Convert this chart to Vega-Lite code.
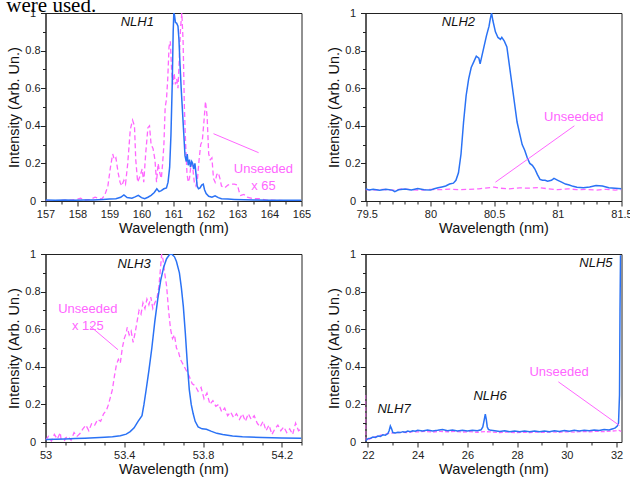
{
  "$schema": "https://vega.github.io/schema/vega-lite/v6.json",
  "padding": {"left": 5.5, "top": -6, "right": 4, "bottom": 4},
  "background": "white",
  "title": {"text": "were used.", "anchor": "start", "frame": "bounds", "font": "Liberation Serif", "fontSize": 21, "fontWeight": "normal", "color": "#000", "offset": -9},
  "columns": 2,
  "spacing": {"row": 53, "column": 64},
  "bounds": "flush",
  "datasets": {
    "s1": [
      {"x":157.0,"y":0.005},{"x":157.3,"y":0.004},{"x":157.6,"y":0.005},{"x":157.9,"y":0.004},{"x":158.2,"y":0.005},{"x":158.5,"y":0.005},{"x":158.8,"y":0.008},{"x":159.0,"y":0.01},{"x":159.2,"y":0.012},{"x":159.35,"y":0.02},{"x":159.45,"y":0.032},{"x":159.55,"y":0.018},{"x":159.7,"y":0.015},{"x":159.8,"y":0.022},{"x":159.9,"y":0.03},{"x":160.0,"y":0.018},{"x":160.1,"y":0.012},{"x":160.2,"y":0.02},{"x":160.3,"y":0.03},{"x":160.4,"y":0.045},{"x":160.48,"y":0.065},{"x":160.55,"y":0.05},{"x":160.62,"y":0.055},{"x":160.7,"y":0.065},{"x":160.78,"y":0.07},{"x":160.83,"y":0.1},{"x":160.88,"y":0.18},{"x":160.92,"y":0.35},{"x":160.96,"y":0.62},{"x":160.99,"y":0.9},{"x":161.01,"y":1.0},{"x":161.03,"y":0.99},{"x":161.06,"y":0.95},{"x":161.1,"y":0.945},{"x":161.14,"y":0.93},{"x":161.17,"y":0.86},{"x":161.2,"y":0.74},{"x":161.24,"y":0.6},{"x":161.28,"y":0.48},{"x":161.32,"y":0.36},{"x":161.36,"y":0.24},{"x":161.4,"y":0.21},{"x":161.43,"y":0.25},{"x":161.46,"y":0.19},{"x":161.5,"y":0.22},{"x":161.53,"y":0.18},{"x":161.57,"y":0.21},{"x":161.6,"y":0.2},{"x":161.63,"y":0.17},{"x":161.67,"y":0.2},{"x":161.7,"y":0.15},{"x":161.74,"y":0.08},{"x":161.78,"y":0.065},{"x":161.83,"y":0.07},{"x":161.88,"y":0.085},{"x":161.93,"y":0.09},{"x":161.97,"y":0.06},{"x":162.02,"y":0.04},{"x":162.1,"y":0.025},{"x":162.2,"y":0.02},{"x":162.3,"y":0.028},{"x":162.4,"y":0.018},{"x":162.5,"y":0.012},{"x":162.7,"y":0.01},{"x":162.9,"y":0.008},{"x":163.2,"y":0.006},{"x":163.5,"y":0.005},{"x":164.0,"y":0.004},{"x":164.5,"y":0.004},{"x":165.0,"y":0.004}
    ],
    "u1": [
      {"x":157.0,"y":0.0},{"x":157.4,"y":0.002},{"x":157.8,"y":0.005},{"x":158.0,"y":0.01},{"x":158.1,"y":0.015},{"x":158.2,"y":0.005},{"x":158.4,"y":0.008},{"x":158.55,"y":0.02},{"x":158.65,"y":0.015},{"x":158.75,"y":0.01},{"x":158.85,"y":0.03},{"x":158.95,"y":0.08},{"x":159.03,"y":0.18},{"x":159.1,"y":0.25},{"x":159.15,"y":0.22},{"x":159.2,"y":0.23},{"x":159.27,"y":0.15},{"x":159.33,"y":0.1},{"x":159.38,"y":0.08},{"x":159.45,"y":0.11},{"x":159.5,"y":0.09},{"x":159.57,"y":0.2},{"x":159.65,"y":0.38},{"x":159.72,"y":0.43},{"x":159.78,"y":0.4},{"x":159.82,"y":0.22},{"x":159.88,"y":0.1},{"x":159.95,"y":0.13},{"x":160.02,"y":0.17},{"x":160.07,"y":0.1},{"x":160.13,"y":0.25},{"x":160.2,"y":0.39},{"x":160.25,"y":0.4},{"x":160.3,"y":0.3},{"x":160.36,"y":0.28},{"x":160.42,"y":0.22},{"x":160.47,"y":0.1},{"x":160.52,"y":0.2},{"x":160.57,"y":0.15},{"x":160.62,"y":0.12},{"x":160.66,"y":0.2},{"x":160.7,"y":0.3},{"x":160.74,"y":0.5},{"x":160.78,"y":0.54},{"x":160.82,"y":0.65},{"x":160.86,"y":0.82},{"x":160.9,"y":0.85},{"x":160.94,"y":0.7},{"x":160.98,"y":0.62},{"x":161.02,"y":0.68},{"x":161.06,"y":0.62},{"x":161.1,"y":0.65},{"x":161.14,"y":0.6},{"x":161.18,"y":0.75},{"x":161.22,"y":0.92},{"x":161.26,"y":1.0},{"x":161.3,"y":0.85},{"x":161.34,"y":0.5},{"x":161.38,"y":0.3},{"x":161.42,"y":0.15},{"x":161.46,"y":0.1},{"x":161.5,"y":0.12},{"x":161.55,"y":0.2},{"x":161.6,"y":0.18},{"x":161.65,"y":0.1},{"x":161.7,"y":0.08},{"x":161.75,"y":0.12},{"x":161.8,"y":0.22},{"x":161.85,"y":0.3},{"x":161.9,"y":0.32},{"x":161.95,"y":0.42},{"x":162.0,"y":0.53},{"x":162.05,"y":0.45},{"x":162.1,"y":0.25},{"x":162.15,"y":0.22},{"x":162.2,"y":0.23},{"x":162.25,"y":0.12},{"x":162.3,"y":0.1},{"x":162.35,"y":0.14},{"x":162.4,"y":0.15},{"x":162.45,"y":0.12},{"x":162.5,"y":0.08},{"x":162.6,"y":0.07},{"x":162.7,"y":0.085},{"x":162.8,"y":0.09},{"x":162.9,"y":0.09},{"x":163.0,"y":0.085},{"x":163.05,"y":0.05},{"x":163.1,"y":0.03},{"x":163.2,"y":0.035},{"x":163.3,"y":0.02},{"x":163.5,"y":0.012},{"x":163.7,"y":0.012},{"x":163.9,"y":0.005},{"x":164.2,"y":0.003},{"x":164.6,"y":0.002},{"x":165.0,"y":0.002}
    ],
    "s2": [
      {"x":79.49,"y":0.065},{"x":79.52,"y":0.058},{"x":79.55,"y":0.062},{"x":79.6,"y":0.057},{"x":79.65,"y":0.063},{"x":79.7,"y":0.058},{"x":79.72,"y":0.05},{"x":79.75,"y":0.06},{"x":79.8,"y":0.064},{"x":79.85,"y":0.059},{"x":79.9,"y":0.066},{"x":79.95,"y":0.06},{"x":80.0,"y":0.058},{"x":80.03,"y":0.065},{"x":80.06,"y":0.07},{"x":80.09,"y":0.075},{"x":80.12,"y":0.08},{"x":80.15,"y":0.09},{"x":80.18,"y":0.095},{"x":80.2,"y":0.11},{"x":80.22,"y":0.15},{"x":80.24,"y":0.25},{"x":80.26,"y":0.42},{"x":80.28,"y":0.56},{"x":80.3,"y":0.65},{"x":80.32,"y":0.71},{"x":80.34,"y":0.74},{"x":80.36,"y":0.77},{"x":80.38,"y":0.76},{"x":80.39,"y":0.73},{"x":80.4,"y":0.76},{"x":80.42,"y":0.82},{"x":80.44,"y":0.88},{"x":80.46,"y":0.93},{"x":80.47,"y":0.97},{"x":80.48,"y":1.0},{"x":80.49,"y":0.96},{"x":80.51,"y":0.9},{"x":80.53,"y":0.87},{"x":80.55,"y":0.86},{"x":80.56,"y":0.87},{"x":80.58,"y":0.85},{"x":80.6,"y":0.82},{"x":80.62,"y":0.72},{"x":80.64,"y":0.62},{"x":80.66,"y":0.52},{"x":80.68,"y":0.42},{"x":80.7,"y":0.36},{"x":80.72,"y":0.3},{"x":80.74,"y":0.27},{"x":80.76,"y":0.23},{"x":80.78,"y":0.2},{"x":80.8,"y":0.19},{"x":80.82,"y":0.17},{"x":80.84,"y":0.14},{"x":80.86,"y":0.115},{"x":80.88,"y":0.11},{"x":80.9,"y":0.11},{"x":80.92,"y":0.105},{"x":80.95,"y":0.11},{"x":80.97,"y":0.12},{"x":81.0,"y":0.11},{"x":81.03,"y":0.1},{"x":81.06,"y":0.09},{"x":81.09,"y":0.085},{"x":81.12,"y":0.078},{"x":81.15,"y":0.073},{"x":81.2,"y":0.07},{"x":81.25,"y":0.075},{"x":81.3,"y":0.082},{"x":81.35,"y":0.08},{"x":81.4,"y":0.07},{"x":81.45,"y":0.068},{"x":81.5,"y":0.065}
    ],
    "u2": [
      {"x":79.49,"y":0.06},{"x":79.55,"y":0.058},{"x":79.62,"y":0.062},{"x":79.7,"y":0.057},{"x":79.78,"y":0.065},{"x":79.85,"y":0.06},{"x":79.92,"y":0.058},{"x":80.0,"y":0.062},{"x":80.08,"y":0.06},{"x":80.15,"y":0.063},{"x":80.22,"y":0.06},{"x":80.3,"y":0.062},{"x":80.38,"y":0.065},{"x":80.45,"y":0.07},{"x":80.5,"y":0.074},{"x":80.55,"y":0.068},{"x":80.62,"y":0.065},{"x":80.7,"y":0.07},{"x":80.78,"y":0.068},{"x":80.85,"y":0.072},{"x":80.92,"y":0.065},{"x":81.0,"y":0.06},{"x":81.08,"y":0.065},{"x":81.15,"y":0.06},{"x":81.22,"y":0.062},{"x":81.3,"y":0.058},{"x":81.38,"y":0.062},{"x":81.45,"y":0.058},{"x":81.5,"y":0.06}
    ],
    "s3": [
      {"x":53.0,"y":0.013},{"x":53.05,"y":0.014},{"x":53.1,"y":0.016},{"x":53.15,"y":0.018},{"x":53.2,"y":0.02},{"x":53.25,"y":0.022},{"x":53.3,"y":0.025},{"x":53.34,"y":0.028},{"x":53.38,"y":0.033},{"x":53.41,"y":0.042},{"x":53.43,"y":0.055},{"x":53.45,"y":0.075},{"x":53.47,"y":0.11},{"x":53.49,"y":0.14},{"x":53.5,"y":0.2},{"x":53.51,"y":0.27},{"x":53.525,"y":0.38},{"x":53.54,"y":0.5},{"x":53.555,"y":0.64},{"x":53.57,"y":0.76},{"x":53.585,"y":0.86},{"x":53.6,"y":0.93},{"x":53.615,"y":0.975},{"x":53.63,"y":0.997},{"x":53.64,"y":1.0},{"x":53.655,"y":0.985},{"x":53.665,"y":0.96},{"x":53.68,"y":0.9},{"x":53.69,"y":0.82},{"x":53.7,"y":0.72},{"x":53.71,"y":0.58},{"x":53.72,"y":0.42},{"x":53.73,"y":0.28},{"x":53.74,"y":0.2},{"x":53.75,"y":0.15},{"x":53.76,"y":0.11},{"x":53.775,"y":0.08},{"x":53.795,"y":0.07},{"x":53.817,"y":0.068},{"x":53.84,"y":0.058},{"x":53.87,"y":0.046},{"x":53.9,"y":0.04},{"x":53.95,"y":0.032},{"x":54.0,"y":0.028},{"x":54.1,"y":0.024},{"x":54.2,"y":0.021},{"x":54.3,"y":0.02}
    ],
    "u3": [
      {"x":53.0,"y":0.01},{"x":53.015,"y":0.03},{"x":53.03,"y":0.005},{"x":53.045,"y":0.04},{"x":53.06,"y":0.015},{"x":53.075,"y":0.05},{"x":53.085,"y":-0.04},{"x":53.1,"y":0.02},{"x":53.115,"y":0.03},{"x":53.13,"y":0.01},{"x":53.145,"y":0.05},{"x":53.16,"y":0.03},{"x":53.175,"y":0.045},{"x":53.19,"y":0.07},{"x":53.205,"y":0.09},{"x":53.22,"y":0.06},{"x":53.235,"y":0.1},{"x":53.25,"y":0.09},{"x":53.265,"y":0.12},{"x":53.28,"y":0.11},{"x":53.295,"y":0.15},{"x":53.31,"y":0.17},{"x":53.32,"y":0.2},{"x":53.33,"y":0.24},{"x":53.34,"y":0.28},{"x":53.35,"y":0.35},{"x":53.36,"y":0.41},{"x":53.37,"y":0.44},{"x":53.38,"y":0.42},{"x":53.39,"y":0.5},{"x":53.4,"y":0.55},{"x":53.41,"y":0.58},{"x":53.415,"y":0.61},{"x":53.425,"y":0.57},{"x":53.435,"y":0.59},{"x":53.445,"y":0.53},{"x":53.455,"y":0.58},{"x":53.465,"y":0.64},{"x":53.475,"y":0.7},{"x":53.485,"y":0.68},{"x":53.495,"y":0.74},{"x":53.505,"y":0.71},{"x":53.515,"y":0.76},{"x":53.525,"y":0.73},{"x":53.535,"y":0.77},{"x":53.545,"y":0.71},{"x":53.555,"y":0.74},{"x":53.565,"y":0.76},{"x":53.575,"y":0.82},{"x":53.582,"y":0.9},{"x":53.59,"y":1.0},{"x":53.597,"y":0.97},{"x":53.605,"y":0.9},{"x":53.615,"y":0.83},{"x":53.625,"y":0.7},{"x":53.635,"y":0.6},{"x":53.645,"y":0.55},{"x":53.655,"y":0.57},{"x":53.665,"y":0.5},{"x":53.675,"y":0.48},{"x":53.685,"y":0.44},{"x":53.695,"y":0.42},{"x":53.705,"y":0.4},{"x":53.715,"y":0.38},{"x":53.73,"y":0.35},{"x":53.745,"y":0.31},{"x":53.76,"y":0.3},{"x":53.775,"y":0.27},{"x":53.79,"y":0.29},{"x":53.805,"y":0.23},{"x":53.82,"y":0.26},{"x":53.835,"y":0.2},{"x":53.85,"y":0.22},{"x":53.865,"y":0.19},{"x":53.88,"y":0.2},{"x":53.895,"y":0.16},{"x":53.91,"y":0.18},{"x":53.925,"y":0.14},{"x":53.94,"y":0.16},{"x":53.955,"y":0.13},{"x":53.97,"y":0.15},{"x":53.985,"y":0.12},{"x":54.0,"y":0.15},{"x":54.015,"y":0.11},{"x":54.03,"y":0.15},{"x":54.045,"y":0.12},{"x":54.06,"y":0.14},{"x":54.075,"y":0.1},{"x":54.09,"y":0.08},{"x":54.105,"y":0.11},{"x":54.12,"y":0.06},{"x":54.135,"y":0.09},{"x":54.15,"y":0.04},{"x":54.165,"y":0.07},{"x":54.18,"y":0.09},{"x":54.195,"y":0.06},{"x":54.21,"y":0.08},{"x":54.225,"y":0.05},{"x":54.24,"y":0.07},{"x":54.255,"y":0.04},{"x":54.27,"y":0.1},{"x":54.285,"y":0.06},{"x":54.3,"y":0.07}
    ],
    "s4": [
      {"x":21.9,"y":0.005},{"x":21.95,"y":0.012},{"x":22.0,"y":0.018},{"x":22.1,"y":0.02},{"x":22.2,"y":0.026},{"x":22.3,"y":0.024},{"x":22.4,"y":0.032},{"x":22.5,"y":0.03},{"x":22.6,"y":0.038},{"x":22.7,"y":0.036},{"x":22.8,"y":0.045},{"x":22.85,"y":0.06},{"x":22.9,"y":0.085},{"x":22.95,"y":0.07},{"x":23.0,"y":0.05},{"x":23.1,"y":0.048},{"x":23.2,"y":0.052},{"x":23.3,"y":0.05},{"x":23.4,"y":0.055},{"x":23.5,"y":0.052},{"x":23.6,"y":0.058},{"x":23.7,"y":0.055},{"x":23.8,"y":0.06},{"x":23.9,"y":0.057},{"x":24.0,"y":0.062},{"x":24.2,"y":0.058},{"x":24.4,"y":0.064},{"x":24.6,"y":0.059},{"x":24.8,"y":0.062},{"x":25.0,"y":0.066},{"x":25.2,"y":0.06},{"x":25.4,"y":0.064},{"x":25.6,"y":0.058},{"x":25.8,"y":0.062},{"x":26.0,"y":0.059},{"x":26.2,"y":0.063},{"x":26.4,"y":0.06},{"x":26.55,"y":0.065},{"x":26.62,"y":0.08},{"x":26.68,"y":0.12},{"x":26.72,"y":0.148},{"x":26.76,"y":0.12},{"x":26.8,"y":0.08},{"x":26.85,"y":0.066},{"x":26.95,"y":0.062},{"x":27.1,"y":0.06},{"x":27.3,"y":0.056},{"x":27.5,"y":0.06},{"x":27.7,"y":0.055},{"x":27.9,"y":0.058},{"x":28.1,"y":0.054},{"x":28.3,"y":0.058},{"x":28.5,"y":0.055},{"x":28.7,"y":0.059},{"x":28.9,"y":0.054},{"x":29.1,"y":0.058},{"x":29.3,"y":0.055},{"x":29.5,"y":0.06},{"x":29.7,"y":0.056},{"x":29.9,"y":0.061},{"x":30.1,"y":0.057},{"x":30.3,"y":0.062},{"x":30.5,"y":0.058},{"x":30.7,"y":0.063},{"x":30.9,"y":0.06},{"x":31.1,"y":0.064},{"x":31.3,"y":0.061},{"x":31.5,"y":0.066},{"x":31.7,"y":0.064},{"x":31.85,"y":0.07},{"x":31.95,"y":0.075},{"x":32.03,"y":0.085},{"x":32.08,"y":0.1},{"x":32.12,"y":0.25},{"x":32.14,"y":0.7},{"x":32.16,"y":0.99},{"x":32.2,"y":0.99}
    ],
    "u4": [
      {"x":21.9,"y":0.25},{"x":21.91,"y":0.01},{"x":21.95,"y":0.008},{"x":22.0,"y":0.012},{"x":22.1,"y":0.018},{"x":22.2,"y":0.022},{"x":22.3,"y":0.028},{"x":22.4,"y":0.03},{"x":22.5,"y":0.036},{"x":22.6,"y":0.038},{"x":22.7,"y":0.042},{"x":22.8,"y":0.045},{"x":22.9,"y":0.046},{"x":23.0,"y":0.048},{"x":23.2,"y":0.05},{"x":23.4,"y":0.052},{"x":23.6,"y":0.05},{"x":23.8,"y":0.055},{"x":24.0,"y":0.054},{"x":24.3,"y":0.056},{"x":24.6,"y":0.053},{"x":24.9,"y":0.057},{"x":25.2,"y":0.054},{"x":25.5,"y":0.056},{"x":25.8,"y":0.053},{"x":26.1,"y":0.055},{"x":26.4,"y":0.052},{"x":26.7,"y":0.055},{"x":27.0,"y":0.053},{"x":27.3,"y":0.05},{"x":27.6,"y":0.053},{"x":27.9,"y":0.05},{"x":28.2,"y":0.052},{"x":28.5,"y":0.05},{"x":28.8,"y":0.053},{"x":29.1,"y":0.051},{"x":29.4,"y":0.054},{"x":29.7,"y":0.052},{"x":30.0,"y":0.055},{"x":30.3,"y":0.053},{"x":30.6,"y":0.056},{"x":30.9,"y":0.054},{"x":31.2,"y":0.057},{"x":31.5,"y":0.055},{"x":31.8,"y":0.058},{"x":32.0,"y":0.06},{"x":32.1,"y":0.062},{"x":32.2,"y":0.056}
    ]
  },
  "concat": [
    {
      "width": 256, "height": 188,
      "encoding": {
        "x": {"field": "x", "type": "quantitative", "scale": {"domain": [157, 165], "nice": false, "zero": false},
          "axis": {"title": "Wavelength (nm)", "values": [157,157.5,158,158.5,159,159.5,160,160.5,161,161.5,162,162.5,163,163.5,164,164.5,165], "format": ".1~f",
            "labelExpr": "datum.value % 1 == 0 ? datum.label : ''",
            "tickSize": {"condition": {"test": "datum.value % 1 == 0", "value": 5}, "value": 3}}},
        "y": {"field": "y", "type": "quantitative", "scale": {"domain": [0, 1], "nice": false},
          "axis": {"title": "Intensity (Arb. Un.)", "values": [0,0.1,0.2,0.3,0.4,0.5,0.6,0.7,0.8,0.9,1], "format": ".1~f",
            "labelExpr": "round(datum.value*10) % 2 == 0 ? datum.label : ''",
            "tickSize": {"condition": {"test": "round(datum.value*10) % 2 == 0", "value": 5}, "value": 3}}}
      },
      "layer": [
        {"data": {"name": "u1"}, "mark": {"type": "line", "color": "#ff66ff", "strokeWidth": 1.3, "strokeDash": [5, 3], "clip": true}},
        {"data": {"name": "s1"}, "mark": {"type": "line", "color": "#2a72f5", "strokeWidth": 1.5, "clip": true}},
        {"data": {"values": [{"x": 162.25, "y": 0.358, "x2": 163.66, "y2": 0.257}]}, "mark": {"type": "rule", "color": "#ff66ff", "strokeWidth": 1},
          "encoding": {"x2": {"field": "x2"}, "y2": {"field": "y2"}}},
        {"data": {"values": [{"label": "NLH1", "x": 159.87, "y": 0.95}]}, "mark": {"type": "text", "fontStyle": "italic", "fontSize": 13, "color": "#111"},
          "encoding": {"text": {"field": "label"}}},
        {"data": {"values": [{"label": "Unseeded\nx 65", "x": 163.81, "y": 0.168}]}, "mark": {"type": "text", "fontSize": 13, "color": "#ff66ff", "lineBreak": "\n", "lineHeight": 16.5},
          "encoding": {"text": {"field": "label"}}}
      ]
    },
    {
      "width": 256, "height": 188,
      "encoding": {
        "x": {"field": "x", "type": "quantitative", "scale": {"domain": [79.49, 81.5], "nice": false, "zero": false},
          "axis": {"title": "Wavelength (nm)", "values": [79.5,79.6,79.7,79.8,79.9,80,80.1,80.2,80.3,80.4,80.5,80.6,80.7,80.8,80.9,81,81.1,81.2,81.3,81.4,81.5], "format": ".1~f",
            "labelExpr": "abs(datum.value*2 - round(datum.value*2)) < 0.01 ? datum.label : ''",
            "tickSize": {"condition": {"test": "abs(datum.value*2 - round(datum.value*2)) < 0.01", "value": 5}, "value": 3}}},
        "y": {"field": "y", "type": "quantitative", "scale": {"domain": [0, 1], "nice": false},
          "axis": {"title": "Intensity (Arb. Un.)", "values": [0,0.1,0.2,0.3,0.4,0.5,0.6,0.7,0.8,0.9,1], "format": ".1~f",
            "labelExpr": "round(datum.value*10) % 2 == 0 ? datum.label : ''",
            "tickSize": {"condition": {"test": "round(datum.value*10) % 2 == 0", "value": 5}, "value": 3}}}
      },
      "layer": [
        {"data": {"name": "u2"}, "mark": {"type": "line", "color": "#ff66ff", "strokeWidth": 1.3, "strokeDash": [5, 3], "clip": true}},
        {"data": {"name": "s2"}, "mark": {"type": "line", "color": "#2a72f5", "strokeWidth": 1.5, "clip": true}},
        {"data": {"values": [{"x": 80.51, "y": 0.1, "x2": 81.13, "y2": 0.4}]}, "mark": {"type": "rule", "color": "#ff66ff", "strokeWidth": 1},
          "encoding": {"x2": {"field": "x2"}, "y2": {"field": "y2"}}},
        {"data": {"values": [{"label": "NLH2", "x": 80.22, "y": 0.95}]}, "mark": {"type": "text", "fontStyle": "italic", "fontSize": 13, "color": "#111"},
          "encoding": {"text": {"field": "label"}}},
        {"data": {"values": [{"label": "Unseeded", "x": 81.125, "y": 0.445}]}, "mark": {"type": "text", "fontSize": 13, "color": "#ff66ff"},
          "encoding": {"text": {"field": "label"}}}
      ]
    },
    {
      "width": 256, "height": 188,
      "encoding": {
        "x": {"field": "x", "type": "quantitative", "scale": {"domain": [53, 54.3], "nice": false, "zero": false},
          "axis": {"title": "Wavelength (nm)", "values": [53,53.1,53.2,53.3,53.4,53.5,53.6,53.7,53.8,53.9,54,54.1,54.2,54.3], "format": ".1~f",
            "labelExpr": "round((datum.value-53)*10) % 4 == 0 ? datum.label : ''",
            "tickSize": {"condition": {"test": "round((datum.value-53)*10) % 4 == 0", "value": 5}, "value": 3}}},
        "y": {"field": "y", "type": "quantitative", "scale": {"domain": [0, 1], "nice": false},
          "axis": {"title": "Intensity (Arb. Un.)", "values": [0,0.1,0.2,0.3,0.4,0.5,0.6,0.7,0.8,0.9,1], "format": ".1~f",
            "labelExpr": "round(datum.value*10) % 2 == 0 ? datum.label : ''",
            "tickSize": {"condition": {"test": "round(datum.value*10) % 2 == 0", "value": 5}, "value": 3}}}
      },
      "layer": [
        {"data": {"name": "u3"}, "mark": {"type": "line", "color": "#ff66ff", "strokeWidth": 1.3, "strokeDash": [5, 3], "clip": true}},
        {"data": {"name": "s3"}, "mark": {"type": "line", "color": "#2a72f5", "strokeWidth": 1.5, "clip": true}},
        {"data": {"values": [{"x": 53.227, "y": 0.616, "x2": 53.368, "y2": 0.491}]}, "mark": {"type": "rule", "color": "#ff66ff", "strokeWidth": 1},
          "encoding": {"x2": {"field": "x2"}, "y2": {"field": "y2"}}},
        {"data": {"values": [{"label": "NLH3", "x": 53.45, "y": 0.947}]}, "mark": {"type": "text", "fontStyle": "italic", "fontSize": 13, "color": "#111"},
          "encoding": {"text": {"field": "label"}}},
        {"data": {"values": [{"label": "Unseeded\nx 125", "x": 53.215, "y": 0.705}]}, "mark": {"type": "text", "fontSize": 13, "color": "#ff66ff", "lineBreak": "\n", "lineHeight": 16.5},
          "encoding": {"text": {"field": "label"}}}
      ]
    },
    {
      "width": 256, "height": 188,
      "encoding": {
        "x": {"field": "x", "type": "quantitative", "scale": {"domain": [21.9, 32.2], "nice": false, "zero": false},
          "axis": {"title": "Wavelength (nm)", "values": [22,23,24,25,26,27,28,29,30,31,32], "format": ".1~f",
            "labelExpr": "datum.value % 2 == 0 ? datum.label : ''",
            "tickSize": {"condition": {"test": "datum.value % 2 == 0", "value": 5}, "value": 3}}},
        "y": {"field": "y", "type": "quantitative", "scale": {"domain": [0, 1], "nice": false},
          "axis": {"title": "Intensity (Arb. Un.)", "values": [0,0.1,0.2,0.3,0.4,0.5,0.6,0.7,0.8,0.9,1], "format": ".1~f",
            "labelExpr": "round(datum.value*10) % 2 == 0 ? datum.label : ''",
            "tickSize": {"condition": {"test": "round(datum.value*10) % 2 == 0", "value": 5}, "value": 3}}}
      },
      "layer": [
        {"data": {"name": "u4"}, "mark": {"type": "line", "color": "#ff66ff", "strokeWidth": 1.3, "strokeDash": [4, 2], "clip": true}},
        {"data": {"name": "s4"}, "mark": {"type": "line", "color": "#2a72f5", "strokeWidth": 1.5, "clip": true}},
        {"data": {"values": [{"x": 29.66, "y": 0.32, "x2": 32.12, "y2": 0.0875}]}, "mark": {"type": "rule", "color": "#ff66ff", "strokeWidth": 1},
          "encoding": {"x2": {"field": "x2"}, "y2": {"field": "y2"}}},
        {"data": {"values": [{"label": "NLH5", "x": 31.17, "y": 0.95}, {"label": "NLH6", "x": 26.91, "y": 0.244}, {"label": "NLH7", "x": 23.05, "y": 0.173}]}, "mark": {"type": "text", "fontStyle": "italic", "fontSize": 13, "color": "#111"},
          "encoding": {"text": {"field": "label"}}},
        {"data": {"values": [{"label": "Unseeded", "x": 29.69, "y": 0.373}]}, "mark": {"type": "text", "fontSize": 13, "color": "#ff66ff"},
          "encoding": {"text": {"field": "label"}}}
      ]
    }
  ],
  "config": {
    "view": {"stroke": "#222", "strokeWidth": 1},
    "font": "Liberation Sans",
    "axis": {"domainColor": "#222", "tickColor": "#222", "labelColor": "#222", "titleColor": "#111", "labelFont": "Liberation Sans", "titleFont": "Liberation Sans", "labelFontSize": 11, "titleFontSize": 14.5, "titleFontWeight": "normal", "grid": false, "labelFlush": false, "labelOverlap": false, "labelPadding": 2, "titlePadding": 2, "tickWidth": 1, "domainWidth": 1},
    "axisY": {"labelAlign": "center", "labelPadding": 8, "titlePadding": 3},
    "text": {"font": "Liberation Sans"}
  }
}
